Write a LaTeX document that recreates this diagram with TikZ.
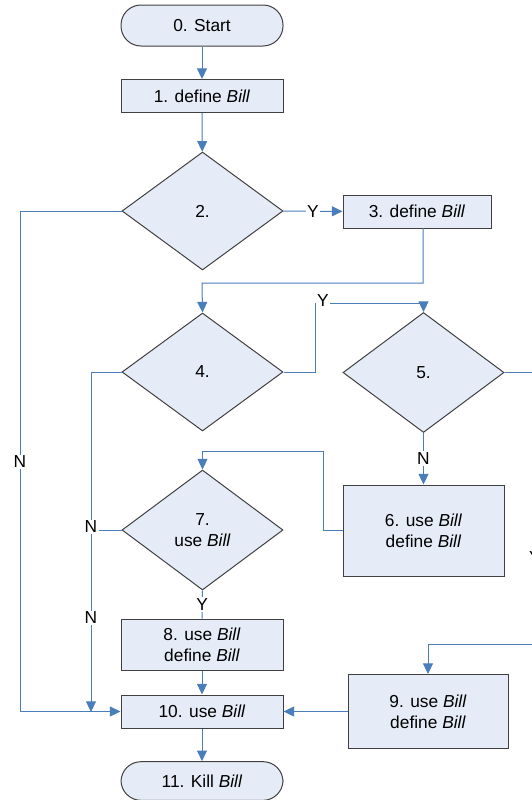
\documentclass[tikz,border=0pt]{standalone}
\usepackage{fontspec}
\setmainfont{Liberation Sans}
\usetikzlibrary{shapes.geometric,arrows.meta}
\definecolor{fillc}{HTML}{E6ECF7}
\definecolor{linec}{HTML}{4A7EBB}
\definecolor{bordc}{HTML}{404040}
\begin{document}
\begin{tikzpicture}[x=0.75pt,y=-0.75pt,
  every node/.style={font=\fontsize{13}{15.75}\selectfont},
  box/.style={draw=bordc, fill=fillc, line width=0.75pt, align=center, inner sep=0pt},
  term/.style={box, rounded corners=15pt},
  dec/.style={box, diamond, minimum width=120.75pt, minimum height=88.5pt},
  conn/.style={draw=linec, line width=0.75pt},
  arr/.style={conn, -{Triangle[width=7.5pt,length=8pt]}},
  lab/.style={fill=white, inner sep=1pt}]
\path[use as bounding box, clip] (0,0) rectangle (532,800);

\node[term, minimum width=121.5pt, minimum height=30.75pt] (n0) at (202,25.5) {0. Start};
\node[box, minimum width=121.5pt, minimum height=24.75pt] (n1) at (202,96) {1. define \textit{Bill}};
\node[dec] (n2) at (202.5,211) {2.};
\node[box, minimum width=111pt, minimum height=24.75pt] (n3) at (417,211.5) {3. define \textit{Bill}};
\node[dec] (n4) at (202.5,372) {4.};
\node[dec, minimum height=90pt] (n5) at (423.5,372.5) {5.};
\node[box, minimum width=120.75pt, minimum height=68.25pt] (n6) at (423.5,530.5) {6. use \textit{Bill}\\define \textit{Bill}};
\node[dec, minimum height=90pt] (n7) at (202.5,530) {7.\\use \textit{Bill}};
\node[box, minimum width=121.5pt, minimum height=38.25pt] (n8) at (202,644.5) {8. use \textit{Bill}\\define \textit{Bill}};
\node[box, minimum width=121.5pt, minimum height=24.75pt] (n10) at (202,711.5) {10. use \textit{Bill}};
\node[box, minimum width=120pt, minimum height=55.5pt] (n9) at (428,711.5) {9. use \textit{Bill}\\define \textit{Bill}};
\node[term, minimum width=121.5pt, minimum height=29pt] (n11) at (202,781) {11. Kill \textit{Bill}};

\coordinate (c3) at (423,228);
\coordinate (c4) at (202,283);
\coordinate (c45a) at (315,303);
\coordinate (c45b) at (423.5,303);
\coordinate (c5e) at (545,372.5);
\coordinate (c9in) at (545,644);
\coordinate (c67) at (323,451);
\coordinate (cN7) at (91,530);
\coordinate (cN4) at (91,712);
\coordinate (cN2) at (20,711.5);

\draw[arr] (n0) -- (n1);
\draw[arr] (n1) -- (n2);
\draw[arr] (n2) -- node[lab]{Y} (n3);
\draw[arr] (c3) |- (c4) -- (n4.north);
\draw[arr] (n4.east) -| (c45a) -- (c45b) -- (n5.north);
\node[lab] at (323,301) {Y};
\draw[conn] (n5.east) -- (c5e);
\node[lab] at (535,558) {Y};
\draw[arr] (c9in) -| (n9.north);
\draw[arr] (n5.south) -- node[lab]{N} (n6.north);
\draw[arr] (n6.west) -| (c67) -| (n7.north);
\draw[conn] (n7.south) -- node[lab]{Y} (n8.north);
\draw[arr] (n4.west) -| (cN4);
\draw[conn] (n7.west) -- (cN7);
\node[lab] at (91,527) {N};
\node[lab] at (91,618) {N};
\draw[arr] (n2.west) -| (cN2) -- (n10.west);
\node[lab] at (20,462) {N};
\draw[arr] (n8) -- (n10);
\draw[arr] (n9) -- (n10);
\draw[arr] (n10) -- (n11);
\end{tikzpicture}
\end{document}
